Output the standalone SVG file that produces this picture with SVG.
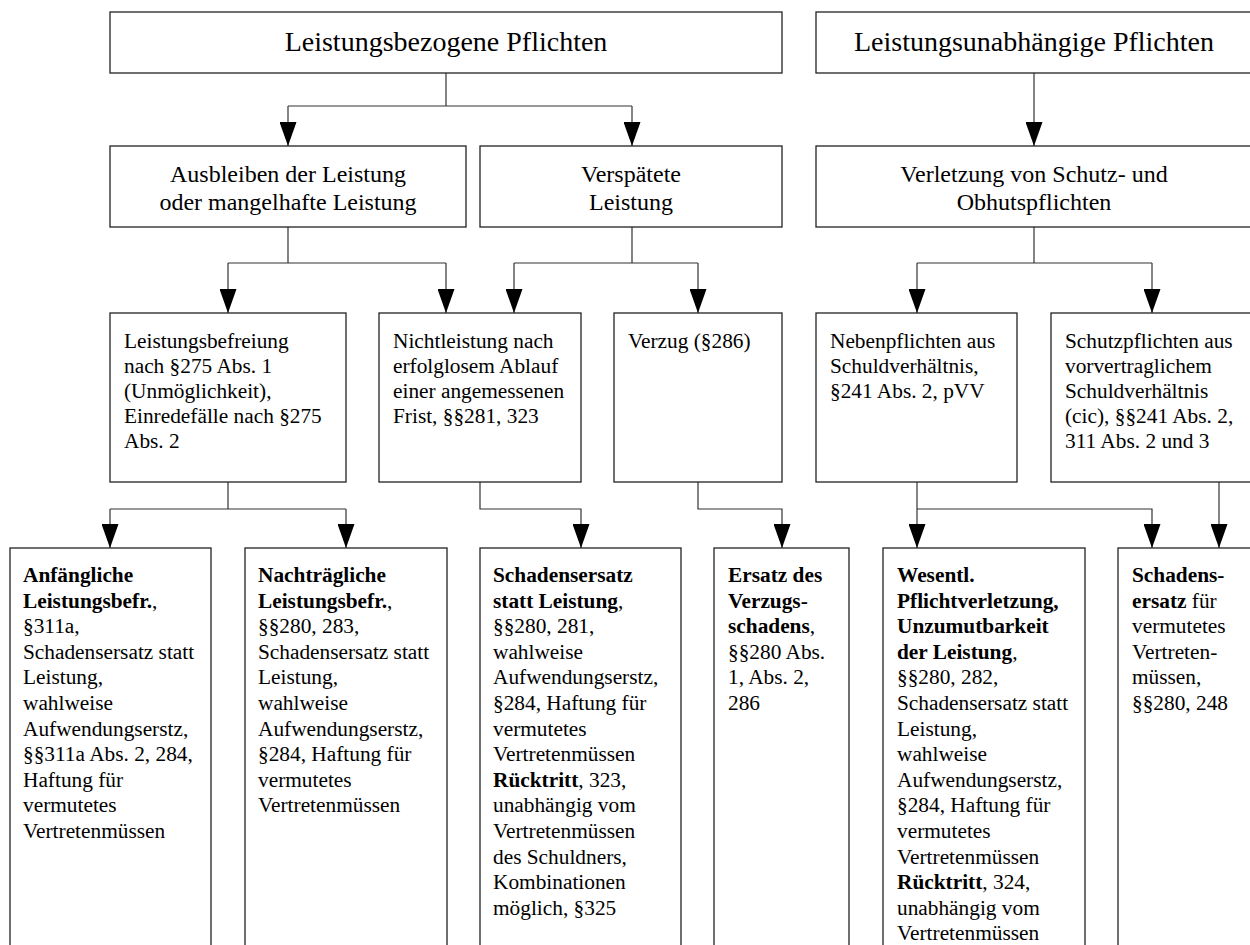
<svg xmlns="http://www.w3.org/2000/svg" width="1250" height="945" viewBox="0 0 1250 945">
<style>
.box{fill:#fff;stroke:#222;stroke-width:1.3}
.c{fill:none;stroke:#333;stroke-width:1.2}
.a{marker-end:url(#ah)}
text{font-family:"Liberation Serif","Times New Roman",serif;fill:#000}
.t1{font-size:28px;text-anchor:middle}
.t2{font-size:24px;text-anchor:middle}
.t3{font-size:21.33px}
.b{font-weight:bold}
</style>
<defs>
<marker id="ah" markerUnits="userSpaceOnUse" markerWidth="24" markerHeight="17" refX="24" refY="8.5" orient="auto" viewBox="0 0 24 17">
<path d="M0,0 L24,8.5 L0,17 Z" fill="#000"/>
</marker>
</defs>
<rect width="1250" height="945" fill="#fff"/>

<g id="connectors">
<path class="c" d="M446,73 V106 M288,106 H632"/>
<path class="c a" d="M288,106 V146"/>
<path class="c a" d="M632,106 V146"/>
<path class="c a" d="M1034,73 V146"/>
<path class="c" d="M288,227 V263 M228,263 H446"/>
<path class="c a" d="M228,263 V313"/>
<path class="c a" d="M446,263 V313"/>
<path class="c" d="M632,227 V263 M514,263 H698"/>
<path class="c a" d="M514,263 V313"/>
<path class="c a" d="M698,263 V313"/>
<path class="c" d="M1034,227 V263 M917,263 H1152"/>
<path class="c a" d="M917,263 V313"/>
<path class="c a" d="M1152,263 V313"/>
<path class="c" d="M228,482 V509 M110,509 H346"/>
<path class="c a" d="M110,509 V548"/>
<path class="c a" d="M346,509 V548"/>
<path class="c a" d="M480,482 V509 H581 V548"/>
<path class="c a" d="M698,482 V509 H782 V548"/>
<path class="c a" d="M917,482 V548"/>
<path class="c a" d="M917,509 H1152 V548"/>
<path class="c a" d="M1219,482 V548"/>
</g>

<g id="n-leistungsbezogen">
<rect class="box" x="110" y="12" width="672" height="61"/>
<text class="t1" x="446" y="51">Leistungsbezogene Pflichten</text>
</g>
<g id="n-leistungsunabhaengig">
<rect class="box" x="816" y="12" width="450" height="61"/>
<text class="t1" x="1034" y="51">Leistungsunabhängige Pflichten</text>
</g>

<g id="n-ausbleiben">
<rect class="box" x="110" y="146" width="356" height="81"/>
<text class="t2" x="288" y="182">Ausbleiben der Leistung</text>
<text class="t2" x="288" y="210">oder mangelhafte Leistung</text>
</g>
<g id="n-verspaetet">
<rect class="box" x="480" y="146" width="302" height="81"/>
<text class="t2" x="631" y="182">Verspätete</text>
<text class="t2" x="631" y="210">Leistung</text>
</g>
<g id="n-verletzung">
<rect class="box" x="816" y="146" width="450" height="81"/>
<text class="t2" x="1034" y="182">Verletzung von Schutz- und</text>
<text class="t2" x="1034" y="210">Obhutspflichten</text>
</g>

<g id="n-leistungsbefreiung">
<rect class="box" x="110" y="313" width="236" height="169"/>
<text class="t3" x="124" y="348"><tspan x="124">Leistungsbefreiung</tspan><tspan x="124" dy="25">nach §275 Abs. 1</tspan><tspan x="124" dy="25">(Unmöglichkeit),</tspan><tspan x="124" dy="25">Einredefälle nach §275</tspan><tspan x="124" dy="25">Abs. 2</tspan></text>
</g>
<g id="n-nichtleistung">
<rect class="box" x="379" y="313" width="202" height="169"/>
<text class="t3" x="393" y="348"><tspan x="393">Nichtleistung nach</tspan><tspan x="393" dy="25">erfolglosem Ablauf</tspan><tspan x="393" dy="25">einer angemessenen</tspan><tspan x="393" dy="25">Frist, §§281, 323</tspan></text>
</g>
<g id="n-verzug">
<rect class="box" x="614" y="313" width="168" height="169"/>
<text class="t3" x="628" y="348">Verzug (§286)</text>
</g>
<g id="n-nebenpflichten">
<rect class="box" x="816" y="313" width="201" height="169"/>
<text class="t3" x="830" y="348"><tspan x="830">Nebenpflichten aus</tspan><tspan x="830" dy="25">Schuldverhältnis,</tspan><tspan x="830" dy="25">§241 Abs. 2, pVV</tspan></text>
</g>
<g id="n-schutzpflichten">
<rect class="box" x="1051" y="313" width="220" height="169"/>
<text class="t3" x="1065" y="348"><tspan x="1065">Schutzpflichten aus</tspan><tspan x="1065" dy="25">vorvertraglichem</tspan><tspan x="1065" dy="25">Schuldverhältnis</tspan><tspan x="1065" dy="25">(cic), §§241 Abs. 2,</tspan><tspan x="1065" dy="25">311 Abs. 2 und 3</tspan></text>
</g>

<g id="n-anfaenglich">
<rect class="box" x="10" y="548" width="201" height="420"/>
<text class="t3" x="23" y="582"><tspan x="23" class="b">Anfängliche</tspan><tspan x="23" dy="25.6" class="b">Leistungsbefr.</tspan><tspan>,</tspan><tspan x="23" dy="25.6">§311a,</tspan><tspan x="23" dy="25.6">Schadensersatz statt</tspan><tspan x="23" dy="25.6">Leistung,</tspan><tspan x="23" dy="25.6">wahlweise</tspan><tspan x="23" dy="25.6">Aufwendungserstz,</tspan><tspan x="23" dy="25.6">§§311a Abs. 2, 284,</tspan><tspan x="23" dy="25.6">Haftung für</tspan><tspan x="23" dy="25.6">vermutetes</tspan><tspan x="23" dy="25.6">Vertretenmüssen</tspan></text>
</g>
<g id="n-nachtraeglich">
<rect class="box" x="245" y="548" width="202" height="420"/>
<text class="t3" x="258" y="582"><tspan x="258" class="b">Nachträgliche</tspan><tspan x="258" dy="25.6" class="b">Leistungsbefr.</tspan><tspan>,</tspan><tspan x="258" dy="25.6">§§280, 283,</tspan><tspan x="258" dy="25.6">Schadensersatz statt</tspan><tspan x="258" dy="25.6">Leistung,</tspan><tspan x="258" dy="25.6">wahlweise</tspan><tspan x="258" dy="25.6">Aufwendungserstz,</tspan><tspan x="258" dy="25.6">§284, Haftung für</tspan><tspan x="258" dy="25.6">vermutetes</tspan><tspan x="258" dy="25.6">Vertretenmüssen</tspan></text>
</g>
<g id="n-schadensersatz-statt">
<rect class="box" x="480" y="548" width="201" height="420"/>
<text class="t3" x="493" y="582"><tspan x="493" class="b">Schadensersatz</tspan><tspan x="493" dy="25.6" class="b">statt Leistung</tspan><tspan>,</tspan><tspan x="493" dy="25.6">§§280, 281,</tspan><tspan x="493" dy="25.6">wahlweise</tspan><tspan x="493" dy="25.6">Aufwendungserstz,</tspan><tspan x="493" dy="25.6">§284, Haftung für</tspan><tspan x="493" dy="25.6">vermutetes</tspan><tspan x="493" dy="25.6">Vertretenmüssen</tspan><tspan x="493" dy="25.6" class="b">Rücktritt</tspan><tspan>, 323,</tspan><tspan x="493" dy="25.6">unabhängig vom</tspan><tspan x="493" dy="25.6">Vertretenmüssen</tspan><tspan x="493" dy="25.6">des Schuldners,</tspan><tspan x="493" dy="25.6">Kombinationen</tspan><tspan x="493" dy="25.6">möglich, §325</tspan></text>
</g>
<g id="n-verzugsschaden">
<rect class="box" x="714" y="548" width="135" height="420"/>
<text class="t3" x="728" y="582"><tspan x="728" class="b">Ersatz des</tspan><tspan x="728" dy="25.6" class="b">Verzugs-</tspan><tspan x="728" dy="25.6" class="b">schadens</tspan><tspan>,</tspan><tspan x="728" dy="25.6">§§280 Abs.</tspan><tspan x="728" dy="25.6">1, Abs. 2,</tspan><tspan x="728" dy="25.6">286</tspan></text>
</g>
<g id="n-wesentl">
<rect class="box" x="883" y="548" width="202" height="420"/>
<text class="t3" x="897" y="582"><tspan x="897" class="b">Wesentl.</tspan><tspan x="897" dy="25.6" class="b">Pflichtverletzung,</tspan><tspan x="897" dy="25.6" class="b">Unzumutbarkeit</tspan><tspan x="897" dy="25.6" class="b">der Leistung</tspan><tspan>,</tspan><tspan x="897" dy="25.6">§§280, 282,</tspan><tspan x="897" dy="25.6">Schadensersatz statt</tspan><tspan x="897" dy="25.6">Leistung,</tspan><tspan x="897" dy="25.6">wahlweise</tspan><tspan x="897" dy="25.6">Aufwendungserstz,</tspan><tspan x="897" dy="25.6">§284, Haftung für</tspan><tspan x="897" dy="25.6">vermutetes</tspan><tspan x="897" dy="25.6">Vertretenmüssen</tspan><tspan x="897" dy="25.6" class="b">Rücktritt</tspan><tspan>, 324,</tspan><tspan x="897" dy="25.6">unabhängig vom</tspan><tspan x="897" dy="25.6">Vertretenmüssen</tspan></text>
</g>
<g id="n-schadensersatz-vermutet">
<rect class="box" x="1118" y="548" width="160" height="420"/>
<text class="t3" x="1132" y="582"><tspan x="1132" class="b">Schadens-</tspan><tspan x="1132" dy="25.6" class="b">ersatz</tspan><tspan> für</tspan><tspan x="1132" dy="25.6">vermutetes</tspan><tspan x="1132" dy="25.6">Vertreten-</tspan><tspan x="1132" dy="25.6">müssen,</tspan><tspan x="1132" dy="25.6">§§280, 248</tspan></text>
</g>
</svg>
